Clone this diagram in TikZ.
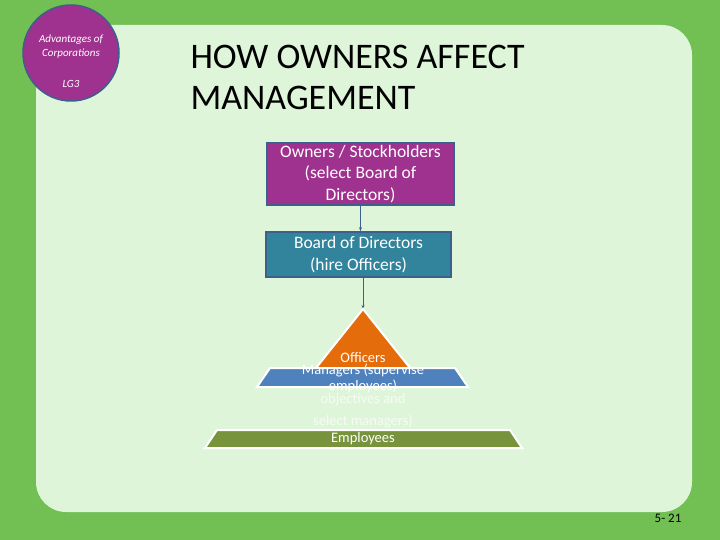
\documentclass[tikz,border=0pt]{standalone}
\usetikzlibrary{arrows.meta}
\usepackage{fontspec}
\setmainfont{Carlito}
\definecolor{bggreen}{HTML}{72BF53}
\definecolor{panel}{HTML}{DFF5DA}
\definecolor{purp}{HTML}{A0328F}
\definecolor{edgeblue}{HTML}{3C5F8C}
\definecolor{teal}{HTML}{31849B}
\definecolor{orng}{HTML}{E46C0A}
\definecolor{mblue}{HTML}{4F81BD}
\definecolor{olive}{HTML}{77933C}
\begin{document}
\begin{tikzpicture}[x=1pt,y=-1pt,
  box/.style={draw=edgeblue,line width=1.5pt,text=white,align=center,font=\fontsize{17.5}{21.5}\selectfont,inner sep=0pt},
  lvl/.style={draw=white,line width=2pt},
  lbl/.style={text=white,font=\fontsize{14.5}{16}\selectfont,inner sep=0pt},
  conn/.style={draw=edgeblue,line width=0.8pt,-{Stealth[length=4pt,width=3pt]}}]
\useasboundingbox (0,0) rectangle (720,540);
\fill[bggreen] (0,0) rectangle (720,540);
\fill[panel,rounded corners=30pt] (36,25) rectangle (692,512);
\node[circle,fill=purp,draw=edgeblue,line width=1.5pt,minimum size=96pt] (c) at (71,53) {};
\node[text=white,align=center,font=\fontsize{11}{14}\selectfont\itshape] (ct) at (71,47) {Advantages of\\Corporations};
\node[text=white,font=\fontsize{11}{14}\selectfont\itshape] (lg) at (71,84) {LG3};
\node[anchor=west,align=left,font=\fontsize{36}{41}\selectfont] (title) at (187,77) {HOW OWNERS AFFECT\\MANAGEMENT};
\node[box,fill=purp,minimum width=187pt,minimum height=62pt] (own) at (360.5,174) {Owners / Stockholders\\(select Board of\\Directors)};
\node[box,fill=teal,minimum width=185pt,minimum height=45pt] (bod) at (358.5,254.5) {Board of Directors\\(hire Officers)};
\coordinate (apex) at (363,309);
\draw[conn] (own.south) -- (own.south |- bod.north);
\draw[conn] (363,277) -- (apex);
\filldraw[lvl,fill=olive] (217,430) -- (510,430) -- (522,448) -- (205,448) -- cycle;
\filldraw[lvl,fill=orng] (apex) -- (410,368) -- (316,368) -- cycle;
\filldraw[lvl,fill=mblue] (270,368) -- (455,368) -- (468,387) -- (257,387) -- cycle;
\node[lbl] (off) at (363,358) {Officers};
\node[lbl,align=center,font=\fontsize{14.5}{16}\selectfont] (mgr) at (363,378) {Managers (supervise\\employees)};
\node[lbl,text=white!70!panel] (obj) at (363,400) {objectives and};
\node[lbl,text=white!70!panel] (sel) at (363,421) {select managers)};
\node[lbl] (emp) at (363,439) {Employees};
\node[font=\fontsize{13}{15}\selectfont] (pg) at (668,518) {5- 21};
\end{tikzpicture}
\end{document}
